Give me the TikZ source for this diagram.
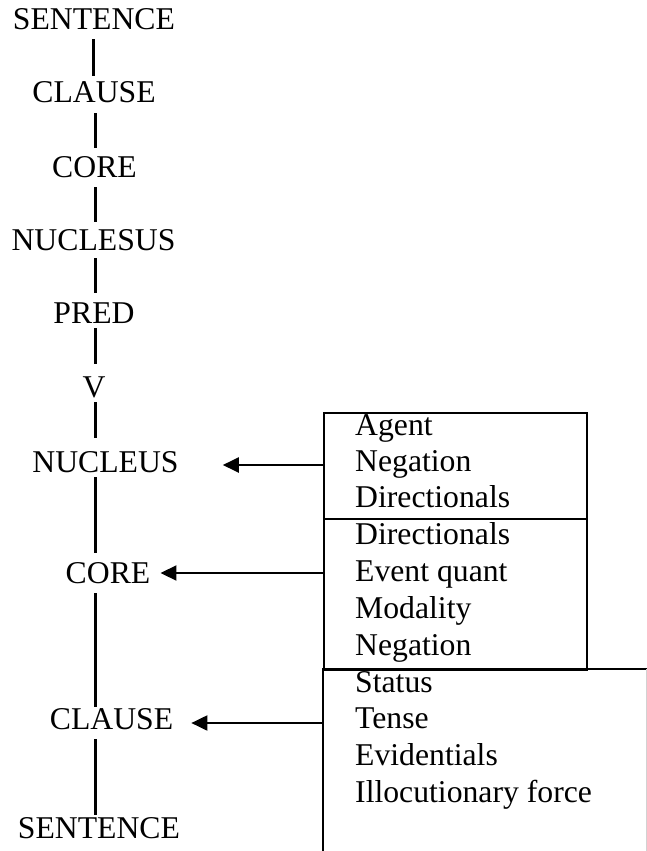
\documentclass[tikz,border=0pt]{standalone}
\usepackage{fontspec}
\setmainfont{Liberation Serif}
\usetikzlibrary{arrows.meta}
\begin{document}
\begin{tikzpicture}[x=1pt,y=-1pt,
  lbl/.style={inner sep=0pt, anchor=base, font=\fontsize{31.7}{38}\selectfont, text height=21pt, text depth=0pt},
  item/.style={inner sep=0pt, anchor=base west, font=\fontsize{31.7}{38}\selectfont},
  spine/.style={line width=2.3pt},
  frame/.style={line width=2pt},
  arr/.style={line width=2pt, -{Triangle[length=16pt,width=15pt]}}
]
\useasboundingbox (0,0) rectangle (647,851);

% upper chain
\node[lbl] (s1) at (94,30)    {SENTENCE};
\node[lbl] (c1) at (94,102)   {CLAUSE};
\node[lbl] (k1) at (94.5,177) {CORE};
\node[lbl] (n1) at (93.5,250) {NUCLESUS};
\node[lbl] (p)  at (94,323)   {PRED};
\node[lbl] (v)  at (94,397)   {V};
% lower chain
\node[lbl] (n2) at (105.5,472) {NUCLEUS};
\node[lbl] (k2) at (108,583)   {CORE};
\node[lbl] (c2) at (111.5,729) {CLAUSE};
\node[lbl] (s2) at (99,838)    {SENTENCE};

% spine
\coordinate (sp0) at (93.5,0);
\coordinate (sp)  at (95.5,0);
\draw[spine, shorten <=9pt,  shorten >=5pt]  (s1.south -| sp0) -- (c1.north -| sp0);
\draw[spine, shorten <=11pt, shorten >=8pt]  (c1.south -| sp) -- (k1.north -| sp);
\draw[spine, shorten <=10pt, shorten >=7pt]  (k1.south -| sp) -- (n1.north -| sp);
\draw[spine, shorten <=8pt,  shorten >=9pt]  (n1.south -| sp) -- (p.north -| sp);
\draw[spine, shorten <=5pt,  shorten >=12pt] (p.south -| sp) -- (v.north -| sp);
\draw[spine, shorten <=5pt,  shorten >=13pt] (v.south -| sp) -- (n2.north -| sp);
\draw[spine, shorten <=5pt,  shorten >=9pt]  (n2.south -| sp) -- (k2.north -| sp);
\draw[spine, shorten <=10pt, shorten >=1pt]  (k2.south -| sp) -- (c2.north -| sp);
\draw[spine, shorten <=10pt, shorten >=2pt]  (c2.south -| sp) -- (s2.north -| sp);

% operator boxes
\node[draw, frame, inner sep=0pt, anchor=north west, minimum width=263pt, minimum height=106pt] (b1) at (323,412) {};
\node[draw, frame, inner sep=0pt, anchor=north west, minimum width=263pt, minimum height=151pt] (b2) at (323,518) {};
\coordinate (b3) at (323,669);
\draw[frame] (b3 |- 0,851) -- (b3) -- (647,669);
\draw[gray!35, line width=0.8pt] (646,669) -- (646,851);

% box contents
\node[item] (t1)  at (355,435) {Agent};
\node[item] (t2)  at (355,471) {Negation};
\node[item] (t3)  at (355,507) {Directionals};
\node[item] (t4)  at (355,544) {Directionals};
\node[item] (t5)  at (355,581) {Event quant};
\node[item] (t6)  at (355,618) {Modality};
\node[item] (t7)  at (355,655) {Negation};
\node[item] (t8)  at (355,692) {Status};
\node[item] (t9)  at (355,728) {Tense};
\node[item] (t10) at (355,765) {Evidentials};
\node[item] (t11) at (355,802) {Illocutionary force};

% operator arrows
\coordinate (a1) at (323,465);
\coordinate (a2) at (323,573);
\coordinate (a3) at (323,723);
\draw[arr, shorten >=44pt] (a1) -- (a1 -| n2.east);
\draw[arr, shorten >=10pt] (a2) -- (a2 -| k2.east);
\draw[arr, shorten >=18pt] (a3) -- (a3 -| c2.east);
\end{tikzpicture}
\end{document}
